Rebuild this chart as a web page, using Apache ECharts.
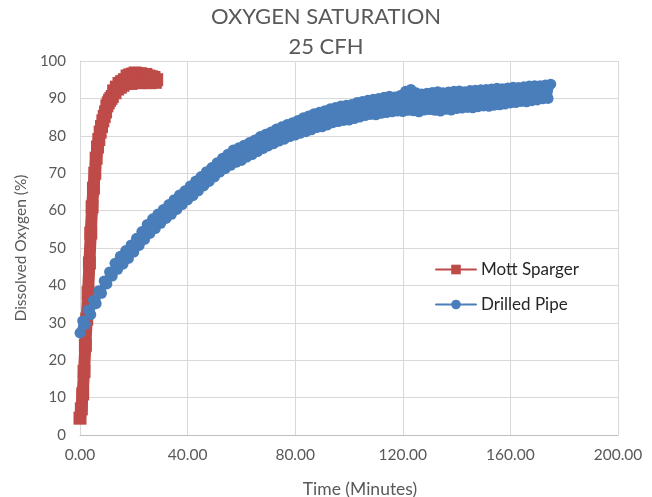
<!DOCTYPE html>
<html>
<head>
<meta charset="utf-8">
<script src="https://cdn.jsdelivr.net/npm/echarts@6/dist/echarts.min.js"></script>
<style>html,body{margin:0;padding:0;background:#fff}#c{width:652px;height:497px}</style>
</head>
<body>
<div id="c"></div>
<script>
// Mott Sparger: sampled every 0.5 min starting at 0
const mottStep = 0.5;
const mottValues = [
  4.5, 7, 11, 17, 24, 31, 38, 46, 54, 61,
  66, 70, 74, 77, 79, 81, 82.5, 84, 85.2, 86.4,
  88, 88.8, 89.5, 90, 90.5, 92, 91.5, 93, 92.5, 94,
  93, 94.5, 93.5, 95, 94, 96, 94.5, 96.3, 94, 96.5,
  94.5, 96.8, 94.6, 96.5, 94.2, 96.6, 94.5, 96.2, 94.3, 96.4,
  94.4, 96, 94.2, 95.8, 94.5, 95.6, 94.3, 95
];
// Drilled Pipe: sampled every 1 min starting at 0
const pipeStep = 1;
const pipeValues = [
  27.3, 30.5, 29.6, 33.4, 32.2, 36.0, 35.1, 38.6, 37.9, 41.2,
  40.4, 43.6, 42.5, 45.9, 44.3, 47.8, 45.7, 49.3, 47.2, 50.8,
  48.9, 52.6, 50.7, 54.4, 52.3, 56.3, 53.9, 57.8, 55.2, 59.1,
  56.6, 60.3, 57.9, 61.6, 59.0, 62.9, 60.3, 64.2, 61.6, 65.3,
  62.9, 66.6, 64.0, 67.9, 65.3, 69.1, 66.6, 70.4, 67.8, 71.5,
  69.0, 72.8, 70.3, 74.0, 71.2, 75.1, 72.1, 76.2, 72.9, 76.8,
  73.4, 77.5, 74.3, 78.2, 75.0, 78.9, 75.8, 79.8, 76.6, 80.4,
  77.3, 81.0, 77.9, 81.8, 78.6, 82.4, 79.1, 83.0, 79.8, 83.5,
  80.2, 84.1, 80.7, 84.8, 81.1, 85.3, 81.6, 85.9, 82.2, 86.3,
  82.4, 86.7, 82.9, 87.2, 83.5, 87.6, 83.8, 88.0, 84.1, 88.2,
  84.2, 88.4, 84.6, 88.9, 85.0, 89.2, 85.4, 89.5, 85.7, 89.8,
  85.6, 90.0, 86.0, 90.3, 86.2, 90.6, 86.4, 90.4, 86.6, 90.8,
  86.5, 91.9, 86.8, 92.4, 86.7, 91.5, 86.4, 91.2, 86.9, 91.4,
  87.0, 91.6, 86.8, 91.8, 86.6, 91.5, 87.1, 91.7, 86.9, 91.9,
  87.3, 92.0, 87.4, 91.8, 87.6, 92.1, 87.5, 92.2, 87.8, 92.3,
  88.0, 92.4, 87.9, 92.5, 88.2, 92.7, 88.3, 92.6, 88.5, 92.8,
  88.8, 93.0, 88.9, 92.9, 89.2, 93.1, 89.1, 93.3, 89.4, 93.4,
  89.6, 93.4, 89.9, 93.6, 90.0, 93.8
];
const xTicks = [0, 40, 80, 120, 160, 200];
const yTicks = [0, 10, 20, 30, 40, 50, 60, 70, 80, 90, 100];
const titleText = "OXYGEN SATURATION\n25 CFH";
const seriesNames = ["Mott Sparger", "Drilled Pipe"];

const mottData = mottValues.map((v, i) => [i * mottStep, v]);
const pipeData = pipeValues.map((v, i) => [i * pipeStep, v]);

const FONT = "Lato, 'Open Sans', sans-serif";
const chart = echarts.init(document.getElementById('c'));
chart.setOption({
  animation: false,
  backgroundColor: '#fff',
  title: {
    text: titleText,
    left: 'center',
    top: 2,
    padding: 0,
    textStyle: { fontFamily: FONT, fontSize: 22, fontWeight: 'normal', color: '#595959', lineHeight: 30 }
  },
  grid: { left: 80, right: 34, top: 61, bottom: 62, containLabel: false, outerBoundsMode: 'none' },
  legend: {
    orient: 'vertical',
    left: 430,
    top: 256,
    itemWidth: 40,
    itemHeight: 12,
    itemGap: 18,
    textStyle: { fontFamily: FONT, fontSize: 17, color: '#262626' },
    data: seriesNames
  },
  xAxis: {
    type: 'value',
    min: xTicks[0], max: xTicks[xTicks.length - 1], interval: 40,
    name: 'Time (Minutes)', nameLocation: 'middle', nameGap: 45,
    nameTextStyle: { fontFamily: FONT, fontSize: 17.5, color: '#595959', padding: [0, 0, 0, 22] },
    axisLine: { show: true, lineStyle: { color: '#bfbfbf', width: 1 } },
    axisTick: { show: false },
    axisLabel: { fontFamily: FONT, fontSize: 15.5, color: '#595959', margin: 12, formatter: v => v.toFixed(2) },
    splitLine: { show: true, lineStyle: { color: '#d9d9d9', width: 1 } }
  },
  yAxis: {
    type: 'value',
    min: yTicks[0], max: yTicks[yTicks.length - 1], interval: 10,
    name: 'Dissolved Oxygen (%)', nameLocation: 'middle', nameGap: 50, nameRotate: 90,
    nameTextStyle: { fontFamily: FONT, fontSize: 15.5, color: '#595959' },
    axisLine: { show: true, lineStyle: { color: '#d9d9d9', width: 1 } },
    axisTick: { show: false },
    axisLabel: { fontFamily: FONT, fontSize: 15, color: '#595959', margin: 14 },
    splitLine: { show: true, lineStyle: { color: '#d9d9d9', width: 1 } }
  },
  series: [
    {
      name: seriesNames[0], type: 'line', data: mottData,
      symbol: 'rect', symbolSize: 13, showSymbol: true,
      itemStyle: { color: '#BE4B48' },
      lineStyle: { color: '#BE4B48', width: 12, join: 'round', cap: 'round' }
    },
    {
      name: seriesNames[1], type: 'line', data: pipeData,
      symbol: 'circle', symbolSize: 11, showSymbol: true,
      itemStyle: { color: '#4A7EBB' },
      lineStyle: { color: '#4A7EBB', width: 7, join: 'round', cap: 'round' }
    }
  ]
});
</script>
</body>
</html>
